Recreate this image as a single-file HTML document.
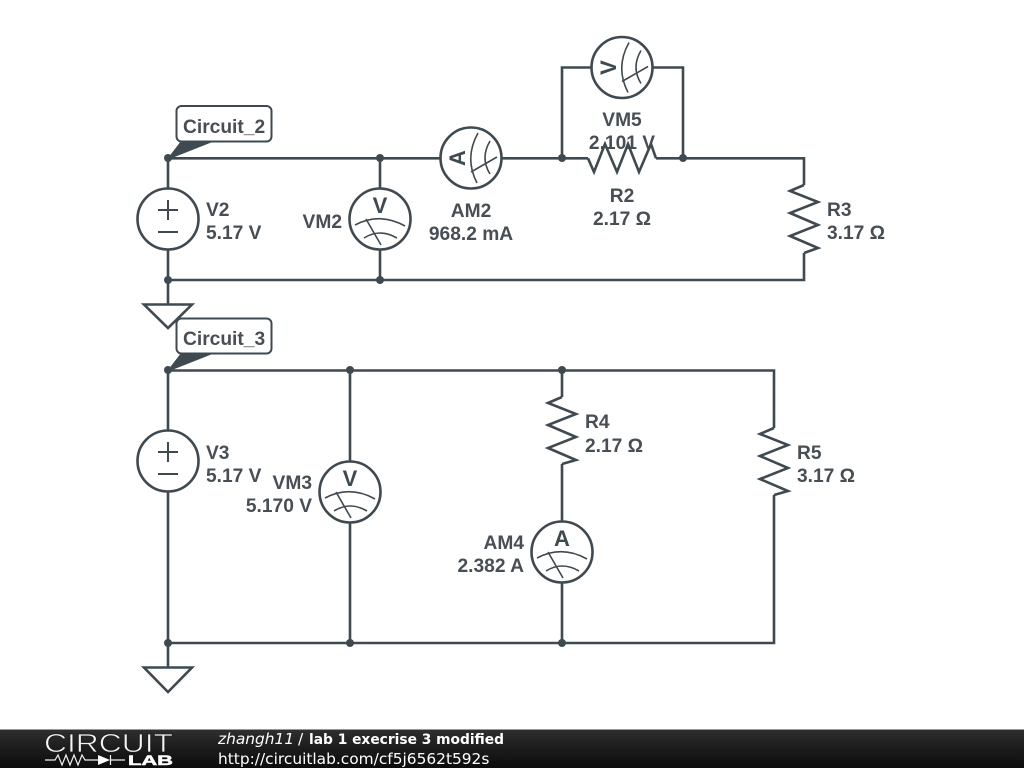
<!DOCTYPE html>
<html><head><meta charset="utf-8"><style>
html,body{margin:0;padding:0;background:#fff;width:1024px;height:768px;overflow:hidden}
svg{display:block;position:absolute;left:0;top:0}
.w{fill:none;stroke:#3f4a50;stroke-width:2.6;stroke-linejoin:miter}
.t{font-family:"Liberation Sans",sans-serif;font-size:19.2px;font-weight:bold;fill:#474f55}
.m{fill:none;stroke:#3f4a50;stroke-width:1.6}
</style></head><body>
<svg width="1024" height="768" viewBox="0 0 1024 768" xmlns="http://www.w3.org/2000/svg">
<defs>
<g id="meter">
<circle r="30.5" fill="#fff" stroke="#3f4a50" stroke-width="2.6"/>
<path class="m" d="M-25 6Q0-7 25 7M-16 19Q0 9 17 19M-14 0L1 26"/>
</g>
<linearGradient id="fg" x1="0" y1="0" x2="0" y2="1"><stop offset="0" stop-color="#303030"/><stop offset=".5" stop-color="#1c1c1c"/><stop offset="1" stop-color="#0c0c0c"/></linearGradient>
</defs>

<!-- wires top -->
<path class="w" d="M168 158.300H440M502 158.300H588M656 158.300H804V185M804 253V280H168V304M168 158V188M168 250V280M380 158V188M380 250V280M562 158V67.500H591M653 67.500H683V158"/>
<!-- wires bottom -->
<path class="w" d="M168 370.500H774V428M774 495V643H168V667M168 370V430M168 492V643M350 370V461M350 523V643M562 370V397M562 464V521M562 583V643"/>

<!-- resistors -->
<polyline class="w" points="804,185 790,191 818,202 790,213 818,225 790,236 818,248 804,253"/>
<polyline class="w" points="562,397 548,403 576,414 548,425 576,437 548,448 576,460 562,464"/>
<polyline class="w" points="774,428 760,434 788,445 760,456 788,468 760,479 788,491 774,495"/>

<!-- sources -->
<g fill="#fff" stroke="#3f4a50" stroke-width="2.6">
<circle cx="168" cy="219" r="30.5"/>
<circle cx="168" cy="461" r="30.5"/>
</g>
<path class="w" style="stroke-width:2" d="M158 210H178M168 200V220M158 232H178M158 452H178M168 442V462M158 474H178"/>

<!-- meters -->
<use href="#meter" transform="translate(380 219)"/>
<use href="#meter" transform="translate(350 492)"/>
<use href="#meter" transform="translate(562 552)"/>
<use href="#meter" transform="translate(471 158) rotate(-90)"/>
<use href="#meter" transform="translate(622 67.500) rotate(-90)"/>
<g font-family="Liberation Sans,sans-serif" font-size="22" font-weight="bold" fill="#3f4a50" text-anchor="middle">
<text x="380" y="213">V</text>
<text x="350" y="486">V</text>
<text x="562" y="546">A</text>
<text transform="translate(471 158) rotate(-90)" y="-6">A</text>
<text transform="translate(622 67.500) rotate(-90)" y="-6">V</text>
</g>

<!-- grounds -->
<path class="w" d="M144 304.500H192L168 328ZM144 667.500H192L168 692Z" style="fill:#fff"/>

<!-- nodes -->
<g fill="#3f4a50">
<circle cx="168" cy="158" r="4"/><circle cx="380" cy="158" r="4"/><circle cx="562" cy="158" r="4"/><circle cx="683" cy="158" r="4"/>
<circle cx="168" cy="280" r="4"/><circle cx="380" cy="280" r="4"/>
<circle cx="168" cy="370" r="4"/><circle cx="350" cy="370" r="4"/><circle cx="562" cy="370" r="4"/>
<circle cx="168" cy="643" r="4"/><circle cx="350" cy="643" r="4"/><circle cx="562" cy="643" r="4"/>
<path d="M168 158L181 141H215L172 158ZM168 370L181 353H215L172 370Z"/>
</g>
<!-- tags -->
<rect x="176.500" y="106" width="95" height="35.500" rx="5" fill="#fff" stroke="#3f4a50" stroke-width="2"/>
<rect x="176.500" y="318.500" width="95" height="35" rx="5" fill="#fff" stroke="#3f4a50" stroke-width="2"/>
<text class="t" x="183" y="133">Circuit_2</text>
<text class="t" x="183" y="345">Circuit_3</text>

<!-- labels -->
<g class="t">
<text x="206" y="216">V2</text><text x="206" y="239">5.17 V</text>
<text x="342" y="228" text-anchor="end">VM2</text>
<text x="471" y="217" text-anchor="middle">AM2</text><text x="471" y="240" text-anchor="middle">968.2 mA</text>
<text x="622" y="126" text-anchor="middle">VM5</text><text x="622" y="149" text-anchor="middle">2.101 V</text>
<text x="622" y="202" text-anchor="middle">R2</text><text x="622" y="225" text-anchor="middle">2.17 Ω</text>
<text x="827" y="216">R3</text><text x="827" y="239">3.17 Ω</text>
<text x="206" y="459">V3</text><text x="206" y="482">5.17 V</text>
<text x="312" y="489" text-anchor="end">VM3</text><text x="312" y="512" text-anchor="end">5.170 V</text>
<text x="585" y="428">R4</text><text x="585" y="452">2.17 Ω</text>
<text x="797" y="459">R5</text><text x="797" y="482">3.17 Ω</text>
<text x="524" y="549" text-anchor="end">AM4</text><text x="524" y="572" text-anchor="end">2.382 A</text>
</g>
<!-- R2 drawn over the VM5 value -->
<polyline class="w" points="588,158.300 594,172 605,144 617,172 628,144 639,172 651,144 656,158.300"/>

<!-- footer -->
<rect x="0" y="729" width="1024" height="39" fill="url(#fg)"/>
<rect x="0" y="729" width="1024" height="1" fill="#999"/>
<text x="44" y="752" font-family="Liberation Sans,sans-serif" font-size="26" fill="#f4f4f4" stroke="#1e1e1e" stroke-width=".7" textLength="129" lengthAdjust="spacingAndGlyphs">CIRCUIT</text>
<path d="M45 760H55L58 755L62 765L66 755L70 765L74 755L78 765L82 755L85 760H98M110 760H125M110.500 755V765" fill="none" stroke="#f0f0f0" stroke-width="1.2"/>
<path d="M98 755V765L110 760Z" fill="#fff"/>
<text x="128" y="765" font-family="Liberation Sans,sans-serif" font-size="14" font-weight="bold" fill="#fff" stroke="#fff" stroke-width=".5" textLength="45" lengthAdjust="spacingAndGlyphs">LAB</text>
<text x="218" y="744" font-family="DejaVu Sans,sans-serif" font-size="15.400" font-style="italic" fill="#fff">zhangh11</text>
<text x="298" y="744" font-family="DejaVu Sans,sans-serif" font-size="15.400" fill="#fff">/</text>
<text x="309" y="744" font-family="DejaVu Sans,sans-serif" font-size="14" font-weight="bold" fill="#fff" textLength="195" lengthAdjust="spacingAndGlyphs">lab 1 execrise 3 modified</text>
<text x="218" y="764" font-family="DejaVu Sans,sans-serif" font-size="15.400" fill="#fff">http://circuitlab.com/cf5j6562t592s</text>
</svg>
</body></html>
